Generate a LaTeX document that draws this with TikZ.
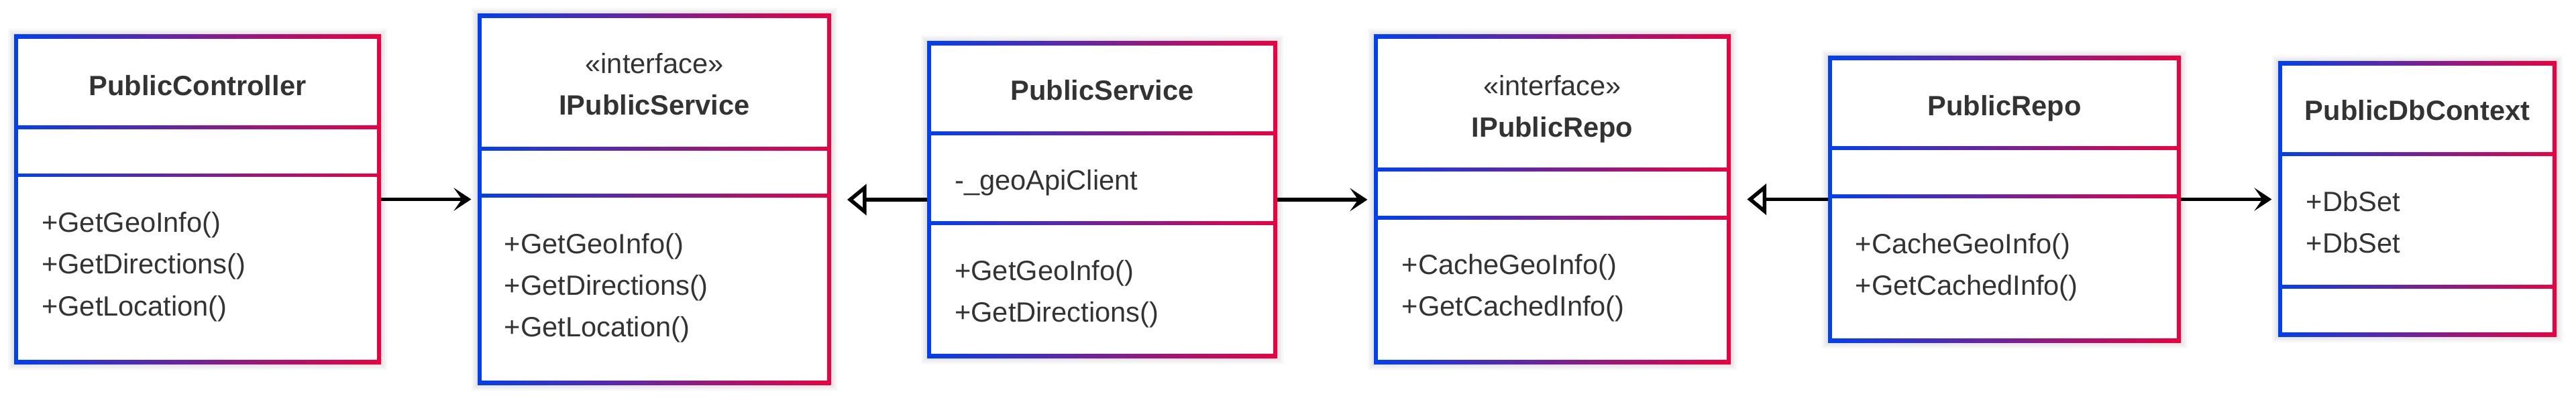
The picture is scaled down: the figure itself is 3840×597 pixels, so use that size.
\documentclass[tikz,border=0pt]{standalone}
\usepackage{fontspec}
\setmainfont{Liberation Sans}
\usetikzlibrary{arrows.meta,fit}

\definecolor{umlBlue}{RGB}{0,64,240}
\definecolor{umlRed}{RGB}{236,0,64}
\definecolor{umlText}{RGB}{51,51,51}
\newcommand{\umlfont}{\fontsize{10.4pt}{15.5pt}\selectfont}

\begin{document}
\begin{tikzpicture}[x=0.25pt,y=0.25pt,yscale=-1,xscale=1,font=\umlfont,
  classbox/.style={rectangle, inner sep=0pt, outer sep=0pt, left color=umlBlue, right color=umlRed,
    preaction={draw=black, draw opacity=0.03, line width=4.5pt},
    preaction={draw=black, draw opacity=0.035, line width=3pt},
    preaction={draw=black, draw opacity=0.04, line width=1.5pt}},
  compart/.style={fill=white},
  classname/.style={anchor=base, inner sep=0pt, text=umlText},
  member/.style={anchor=base west, inner sep=0pt, text=umlText},
  assoc/.style={line width=1.4pt, shorten >=2.4pt, -{Stealth[length=6.5pt, width=8.6pt, inset=3pt]}},
  realize/.style={line width=1.4pt, shorten >=6.1pt, -{Triangle[open, length=7.2pt, width=11.5pt, fill=white]}}]
\useasboundingbox (0,0) rectangle (3840,597);

%Shape: Class [PublicController]
\node[classbox, fit={(21,52) (568,543)}] (ctrl) {};
\fill[compart] (27,58) rectangle (562,187.5);
\fill[compart] (27,193.5) rectangle (562,259);
\fill[compart] (27,264.5) rectangle (562,537);
% Text Node
\node[classname] (ctrl-name) at (294.5,142.5) {\textbf{PublicController}};
\node[member] (ctrl-m1) at (61.5,347) {+GetGeoInfo()};
\node[member] (ctrl-m2) at (61.5,409) {+GetDirections()};
\node[member] (ctrl-m3) at (61.5,471) {+GetLocation()};

%Shape: Class [IPublicService]
\node[classbox, fit={(712,21) (1238.5,574)}] (isvc) {};
\fill[compart] (718,27) rectangle (1232.5,219);
\fill[compart] (718,225) rectangle (1232.5,289.5);
\fill[compart] (718,295.5) rectangle (1232.5,568);
% Text Node
\node[classname] (isvc-stereo) at (975.5,110) {«interface»};
\node[classname] (isvc-name) at (975.5,172) {\textbf{IPublicService}};
\node[member] (isvc-m1) at (751,378.5) {+GetGeoInfo()};
\node[member] (isvc-m2) at (751,440.5) {+GetDirections()};
\node[member] (isvc-m3) at (751,502.5) {+GetLocation()};

%Shape: Class [PublicService]
\node[classbox, fit={(1382,62) (1904,534)}] (svc) {};
\fill[compart] (1388,68) rectangle (1898,196);
\fill[compart] (1388,202) rectangle (1898,330.5);
\fill[compart] (1388,336.5) rectangle (1898,528);
% Text Node
\node[classname] (svc-name) at (1643,150) {\textbf{PublicService}};
\node[member] (svc-a1) at (1422.5,283.5) {-\_geoApiClient};
\node[member] (svc-m1) at (1422.5,418.5) {+GetGeoInfo()};
\node[member] (svc-m2) at (1422.5,480.5) {+GetDirections()};

%Shape: Class [IPublicRepo]
\node[classbox, fit={(2048,52) (2580,543)}] (irepo) {};
\fill[compart] (2054,58) rectangle (2574,250);
\fill[compart] (2054,256) rectangle (2574,322);
\fill[compart] (2054,328) rectangle (2574,537);
% Text Node
\node[classname] (irepo-stereo) at (2314,142.5) {«interface»};
\node[classname] (irepo-name) at (2314,204.5) {\textbf{IPublicRepo}};
\node[member] (irepo-m1) at (2089,409.5) {+CacheGeoInfo()};
\node[member] (irepo-m2) at (2089,471.5) {+GetCachedInfo()};

%Shape: Class [PublicRepo]
\node[classbox, fit={(2725,84) (3251,511)}] (repo) {};
\fill[compart] (2731,90) rectangle (3245,218);
\fill[compart] (2731,224) rectangle (3245,290);
\fill[compart] (2731,296) rectangle (3245,505);
% Text Node
\node[classname] (repo-name) at (2988,173) {\textbf{PublicRepo}};
\node[member] (repo-m1) at (2765,378.5) {+CacheGeoInfo()};
\node[member] (repo-m2) at (2765,440.5) {+GetCachedInfo()};

%Shape: Class [PublicDbContext]
\node[classbox, fit={(3396,92) (3811,502)}] (dbctx) {};
\fill[compart] (3402,98) rectangle (3805,227.5);
\fill[compart] (3402,233.5) rectangle (3805,425);
\fill[compart] (3402,431) rectangle (3805,496);
% Text Node
\node[classname] (dbctx-name) at (3603.5,180) {\textbf{PublicDbContext}};
\node[member] (dbctx-a1) at (3437,315.7) {+DbSet};
\node[member] (dbctx-a2) at (3437,378) {+DbSet};

%Straight Lines
\draw[assoc] (ctrl.east) -- (ctrl.east -| isvc.west);
\draw[realize] (svc.west) -- (svc.west -| isvc.east);
\draw[assoc] (svc.east) -- (svc.east -| irepo.west);
\draw[realize] (repo.west) -- (repo.west -| irepo.east);
\draw[assoc] (repo.east) -- (repo.east -| dbctx.west);

\end{tikzpicture}
\end{document}
